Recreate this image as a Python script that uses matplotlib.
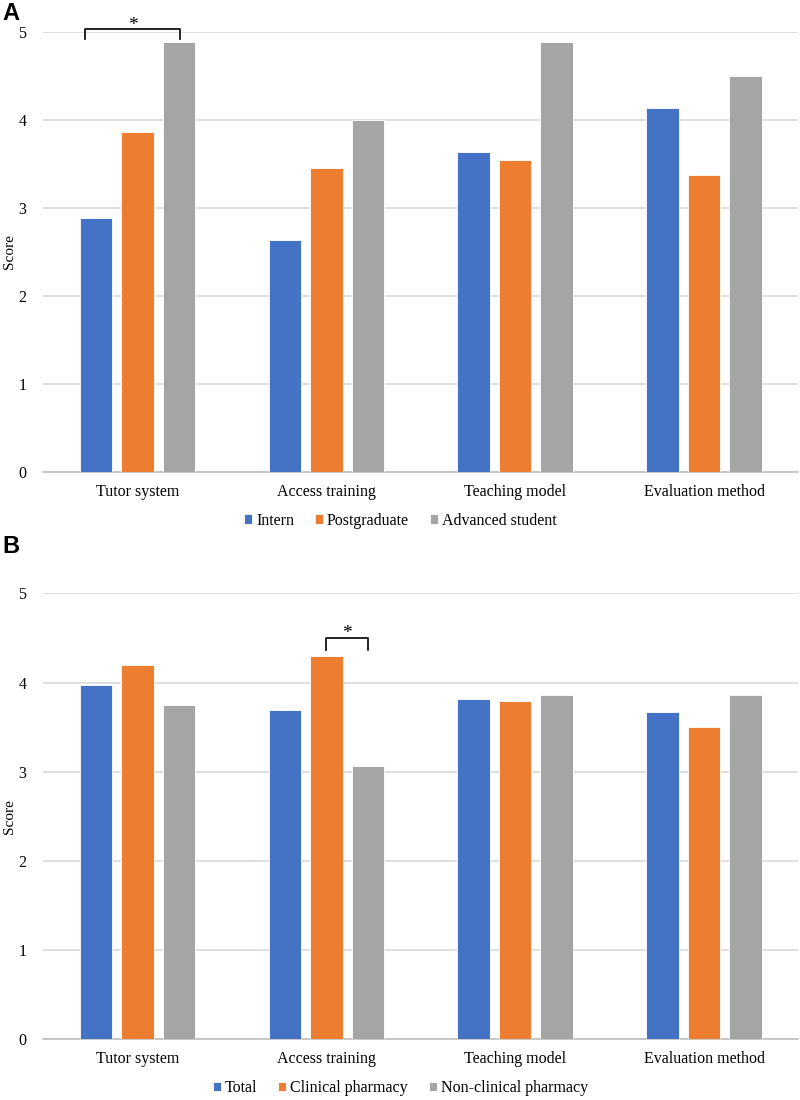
"""Two-panel grouped bar chart of teaching evaluation scores."""

import matplotlib.pyplot as plt
import numpy as np

categories = ["Tutor system", "Access training", "Teaching model", "Evaluation method"]

# panel A: by student type
groups_a = ["Intern", "Postgraduate", "Advanced student"]
intern = [2.89, 2.64, 3.64, 4.14]
postgraduate = [3.86, 3.45, 3.55, 3.37]
advanced = [4.88, 4.00, 4.88, 4.50]

# panel B: by major
groups_b = ["Total", "Clinical pharmacy", "Non-clinical pharmacy"]
total = [3.97, 3.69, 3.82, 3.67]
clinical = [4.20, 4.30, 3.79, 3.50]
nonclinical = [3.75, 3.06, 3.86, 3.86]

colors = ["#4472C4", "#ED7D31", "#A5A5A5"]
plt.rcParams["font.family"] = ["Liberation Serif", "DejaVu Serif"]

fig = plt.figure(figsize=(8, 11), dpi=100)
ax_a = fig.add_axes([0.054, 0.571, 0.944, 0.40])
ax_b = fig.add_axes([0.054, 0.0555, 0.944, 0.405])

x = np.arange(len(categories))
width = 0.172
step = 0.22


def draw(ax, series, labels, legend_y):
    for i, (vals, lab) in enumerate(zip(series, labels)):
        ax.bar(x + (i - 1) * step, vals, width, color=colors[i], label=lab,
               edgecolor="white", linewidth=0.6, zorder=3)
    ax.set_xlim(-0.5, len(categories) - 0.5)
    ax.set_ylim(0, 5)
    ax.set_yticks(range(6))
    ax.set_xticks(x)
    ax.set_xticklabels(categories, fontsize=11.5)
    ax.tick_params(axis="y", labelsize=11.5, length=0, pad=12)
    ax.tick_params(axis="x", length=0, pad=9)
    ax.grid(axis="y", color="#D9D9D9", linewidth=1.2, zorder=0)
    for s in ["top", "right", "left"]:
        ax.spines[s].set_visible(False)
    ax.spines["bottom"].set_color("#BFBFBF")
    ax.spines["bottom"].set_linewidth(1.2)
    ax.set_ylabel("Score", fontsize=11)
    ax.yaxis.set_label_coords(-0.036, 0.5)
    # legend sits at the figure centre, not the axes centre
    ax.legend(loc="upper center", bbox_to_anchor=(0.473, legend_y), ncol=3,
              frameon=False, fontsize=11.5, handlelength=0.5, handleheight=0.5,
              handletextpad=0.25, columnspacing=1.3)


def bracket(ax, x0, x1, y_top, y_leg):
    ax.plot([x0, x0, x1, x1], [y_leg, y_top, y_top, y_leg], color="black",
            lw=1.2, clip_on=False, zorder=4)
    ax.text((x0 + x1) / 2, y_top - 0.05, "*", ha="center", va="bottom",
            fontsize=14, clip_on=False)


draw(ax_a, [intern, postgraduate, advanced], groups_a, -0.06)
draw(ax_b, [total, clinical, nonclinical], groups_b, -0.06)

bracket(ax_a, -0.278, 0.225, 5.03, 4.92)
bracket(ax_b, 1.0, 1.22, 4.50, 4.36)

fig.text(0.003, 0.998, "A", fontsize=17, fontweight="bold", va="top",
         family="Liberation Sans")
fig.text(0.003, 0.514, "B", fontsize=17, fontweight="bold", va="top",
         family="Liberation Sans")

fig.savefig("out.png", dpi=100)
